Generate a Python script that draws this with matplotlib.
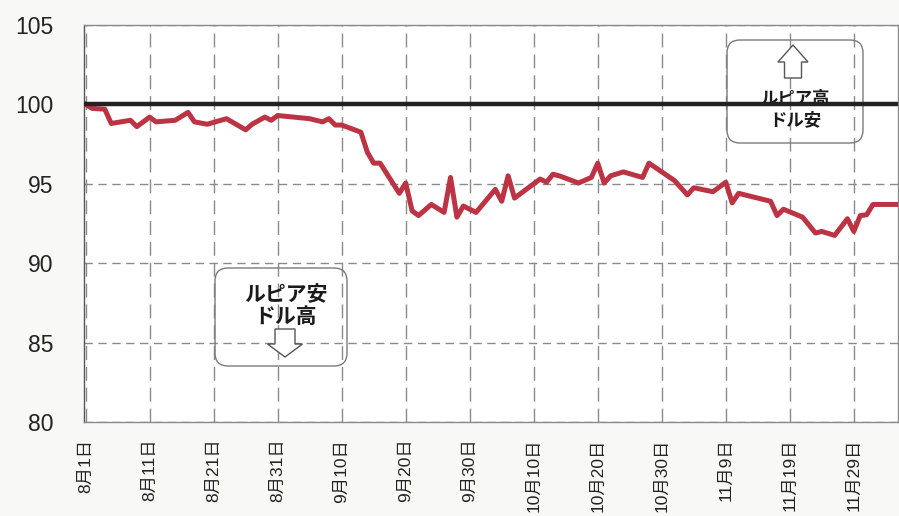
import numpy as np
import pandas as pd
import matplotlib
matplotlib.use("Agg")
import matplotlib.pyplot as plt
from matplotlib.patches import FancyBboxPatch, Polygon

plt.rcParams['font.family'] = ['Liberation Sans', 'Noto Sans CJK JP']

# ルピア指数 (8月1日 = 100)
dates = ["08-01", "08-02", "08-04", "08-05", "08-08", "08-09", "08-11", "08-12",
         "08-15", "08-17", "08-18", "08-20", "08-23", "08-26", "08-27", "08-29",
         "08-30", "08-31", "09-05", "09-07", "09-08", "09-09", "09-10", "09-13",
         "09-14", "09-15", "09-16", "09-19", "09-20", "09-21", "09-22", "09-24",
         "09-26", "09-27", "09-28", "09-29", "10-01", "10-04", "10-05", "10-06",
         "10-07", "10-11", "10-12", "10-13", "10-14", "10-17", "10-19", "10-20",
         "10-21", "10-22", "10-24", "10-27", "10-28", "11-01", "11-03", "11-04",
         "11-07", "11-09", "11-10", "11-11", "11-16", "11-17", "11-18", "11-21",
         "11-23", "11-24", "11-26", "11-28", "11-29", "11-30", "12-01", "12-02",
         "12-06"]
rupiah = [100.0, 99.75, 99.7, 98.8, 99.0, 98.6, 99.2, 98.9,
          99.0, 99.5, 98.9, 98.75, 99.1, 98.4, 98.75, 99.2,
          99.0, 99.3, 99.1, 98.9, 99.1, 98.7, 98.7, 98.25,
          97.0, 96.3, 96.3, 94.4, 95.05, 93.3, 93.0, 93.7,
          93.2, 95.4, 92.9, 93.6, 93.2, 94.65, 93.9, 95.5,
          94.1, 95.3, 95.1, 95.6, 95.5, 95.05, 95.4, 96.3,
          95.05, 95.5, 95.75, 95.4, 96.3, 95.2, 94.3, 94.75,
          94.5, 95.1, 93.8, 94.4, 93.9, 93.0, 93.4, 92.9,
          91.9, 92.0, 91.75, 92.8, 92.0, 93.0, 93.05, 93.7,
          93.7]
base_level = 100
yticks = [80, 85, 90, 95, 100, 105]

t = pd.to_datetime(["2013-" + d for d in dates])
tick_dates = pd.date_range("2013-08-01", periods=13, freq="10D")
tick_labels = [f"{d.month}月{d.day}日" for d in tick_dates]

fig = plt.figure(figsize=(8.99, 5.16), dpi=100, facecolor='#f8f8f6')
ax = fig.add_axes([84 / 899, 1 - 422 / 516, 814 / 899, 397 / 516])
ax.set_facecolor('white')

ax.plot(t, rupiah, color='#bc3444', lw=3.6, solid_joinstyle='round', zorder=4)
ax.axhline(base_level, color='#222222', lw=3.2, zorder=5)

ax.set_ylim(80, 105)
ax.set_yticks(yticks)
ax.set_xlim(tick_dates[0] - pd.Timedelta(hours=6), tick_dates[0] + pd.Timedelta(days=126.9))
ax.set_xticks(tick_dates)
ax.set_xticklabels(tick_labels, rotation=90, ha='center', va='top', fontsize=12.5, color='#222222')
ax.tick_params(axis='x', length=0, pad=12)
ax.tick_params(axis='y', length=0, pad=22, labelsize=16.5, labelcolor='#222222')

ax.xaxis.grid(True, color='#8a8a8a', lw=1.0, linestyle=(0, (10, 5)))
ax.yaxis.grid(True, color='#8a8a8a', lw=1.0, linestyle=(0, (6, 4)))
ax.set_axisbelow(True)
for side, sp in ax.spines.items():
    sp.set_color('#555555' if side == 'left' else '#8a8a8a')
    sp.set_linewidth(1.0)


def px(x, y):
    # pixel position -> axes fraction
    return ((x - 84) / 814, (422 - y) / 397)


aspect = 814 / 397


def note_box(x0, y0, x1, y1):
    (ax0, ay0), (ax1, ay1) = px(x0, y1), px(x1, y0)
    box = FancyBboxPatch((ax0, ay0), ax1 - ax0, ay1 - ay0,
                         boxstyle="round,pad=0,rounding_size=0.016",
                         mutation_aspect=aspect, transform=ax.transAxes,
                         fc='none', ec='#7a7a7a', lw=1.0, zorder=2)
    ax.add_patch(box)


def hollow_arrow(cx, y_tail, y_neck, y_tip, shaft_w, head_w):
    pts = [(cx - shaft_w / 2, y_tail), (cx + shaft_w / 2, y_tail),
           (cx + shaft_w / 2, y_neck), (cx + head_w / 2, y_neck),
           (cx, y_tip), (cx - head_w / 2, y_neck), (cx - shaft_w / 2, y_neck)]
    ax.add_patch(Polygon([px(x, y) for x, y in pts], closed=True,
                         transform=ax.transAxes, fc='white', ec='#555555',
                         lw=1.0, zorder=3))


# ルピア安 / ドル高
note_box(215, 268, 347, 366)
ax.text(*px(286, 295), "ルピア安", transform=ax.transAxes, ha='center', va='center',
        fontsize=15, fontweight='bold', color='#1a1a1a', zorder=3)
ax.text(*px(286, 317), "ドル高", transform=ax.transAxes, ha='center', va='center',
        fontsize=15, fontweight='bold', color='#1a1a1a', zorder=3)
hollow_arrow(285, 329, 344, 357, 20, 35)

# ルピア高 / ドル安
note_box(727, 40, 863, 143)
ax.text(*px(795, 98), "ルピア高", transform=ax.transAxes, ha='center', va='center',
        fontsize=12.5, fontweight='bold', color='#1a1a1a', zorder=3)
ax.text(*px(795, 120), "ドル安", transform=ax.transAxes, ha='center', va='center',
        fontsize=12.5, fontweight='bold', color='#1a1a1a', zorder=3)
hollow_arrow(793, 78, 62, 45, 17, 30)

fig.savefig('out.png', dpi=100, facecolor=fig.get_facecolor())
